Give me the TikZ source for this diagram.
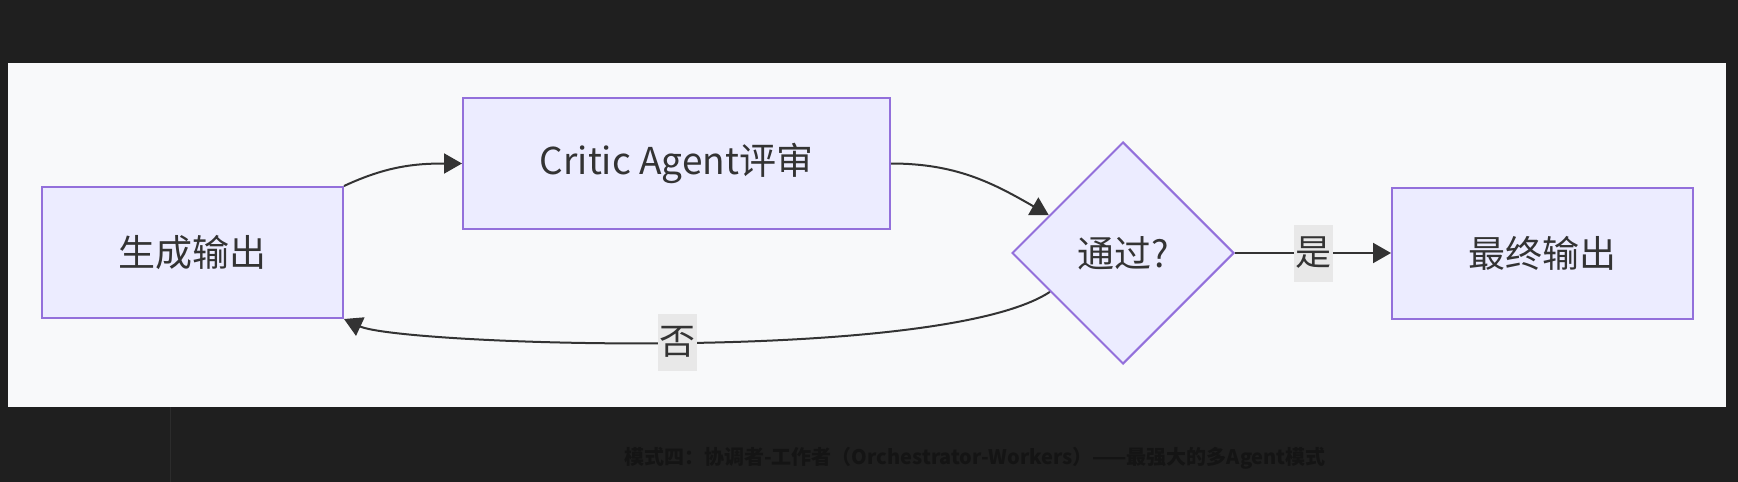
\documentclass[tikz,border=0pt]{standalone}
\usepackage{fontspec}
\setmainfont{Noto Sans CJK SC}
\usetikzlibrary{shapes.geometric,arrows.meta}

\definecolor{pagebg}{HTML}{1F1F1F}
\definecolor{panelbg}{HTML}{F8F9FA}
\definecolor{nodefill}{HTML}{ECECFF}
\definecolor{nodeline}{HTML}{9370DB}
\definecolor{inkgray}{HTML}{333333}
\definecolor{labfill}{HTML}{E8E8E8}
\definecolor{shadetext}{HTML}{141414}

\tikzset{
	stepbox/.style={draw=nodeline, fill=nodefill, line width=2pt, inner sep=0pt, minimum width=301pt, minimum height=131pt, text=inkgray, node font=\fontsize{37}{40}\selectfont},
	checkbox/.style={diamond, aspect=1, draw=nodeline, fill=nodefill, line width=2pt, inner sep=0pt, minimum width=222pt, minimum height=222pt, text=inkgray, node font=\fontsize{37}{40}\selectfont},
	flow/.style={draw=inkgray, line width=2pt, -{Triangle[length=18pt, width=20pt]}},
	edgelab/.style={fill=labfill, text=inkgray, inner sep=0pt, minimum width=39pt, minimum height=57pt, node font=\fontsize{36}{40}\selectfont}
}

\begin{document}
\begin{tikzpicture}[x=1pt, y=-1pt]
	\useasboundingbox [fill=pagebg] (0,0) rectangle (1738,482);
	\fill [panelbg] (8,63) rectangle (1726,407);
	\draw [pagebg!94!white, line width=1pt] (170,407) -- (170,482);
	\node [shadetext, node font=\fontsize{20}{24}\selectfont\bfseries] (caption) at (975,458) {模式四：协调者-工作者（Orchestrator-Workers）——最强大的多Agent模式};

	\node [stepbox] (gen) at (192.5,252.5) {生成输出};
	\node [stepbox, minimum width=427pt] (critic) at (676.5,163.5) {Critic Agent评审};
	\node [checkbox] (check) at (1123,253) {通过?};
	\node [stepbox] (final) at (1542.5,253) {最终输出};

	\draw [flow] (gen.north east) to [out=25, in=180] (critic.west);
	\draw [flow] (critic.east) to [out=0, in=150] (check.153);
	\draw [flow] (check.east) -- node [edgelab] {是} (final.west);
	\draw [flow] (check.208) .. controls (941,364) and (400,345) .. node [edgelab] {否} (gen.south east);
\end{tikzpicture}
\end{document}
